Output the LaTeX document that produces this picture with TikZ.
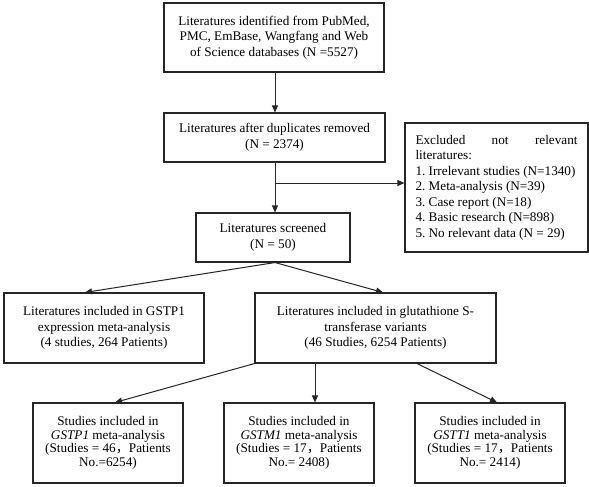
\documentclass[tikz,border=0pt]{standalone}
\usepackage{fontspec}
\setmainfont{Liberation Serif}
\newfontfamily\cjk{Noto Sans CJK SC}
\usetikzlibrary{arrows.meta}
\frenchspacing
\begin{document}
\begin{tikzpicture}[x=1pt,y=-1pt,
  box/.style={draw=black!85, line width=1.1pt, rectangle, inner sep=0pt, align=center,
    font=\fontsize{13.2}{15.5}\selectfont\frenchspacing},
  sbox/.style={box, font=\fontsize{13.2}{13.6}\selectfont\frenchspacing},
  conn/.style={draw=black!85, line width=1pt, -{Triangle[length=7pt,width=6pt]}},
  plain/.style={draw=black!85, line width=1pt}]
\useasboundingbox[fill=white] (0,0) rectangle (589,487);
\node[box, minimum width=220pt, minimum height=69pt] (b1) at (274,37.5)
  {Literatures identified from PubMed,\\PMC, EmBase, Wangfang and Web\\of Science databases (N =5527)};
\node[box, minimum width=221pt, minimum height=49pt] (b2) at (274.5,137.5)
  {Literatures after duplicates removed\\(N = 2374)};
\node[box, minimum width=183pt, minimum height=129pt, align=left] (ex) at (496.5,187.5)
  {\hbox to 162pt{Excluded\hfill not\hfill relevant}\\literatures:\\1. Irrelevant studies (N=1340)\\2. Meta-analysis (N=39)\\3. Case report (N=18)\\4. Basic research (N=898)\\5. No relevant data (N = 29)};
\node[box, minimum width=154pt, minimum height=49pt] (b3) at (273,237.5)
  {Literatures screened\\(N = 50)};
\node[box, minimum width=200pt, minimum height=70pt] (l2) at (104,328)
  {Literatures included in GSTP1\\expression meta-analysis\\(4 studies, 264 Patients)};
\node[box, minimum width=241pt, minimum height=70pt] (r2) at (375.5,328)
  {Literatures included in glutathione S-\\transferase variants\\(46 Studies, 6254 Patients)};
\node[sbox, minimum width=150pt, minimum height=80pt] (A) at (108,443)
  {Studies included in\\\textit{GSTP1} meta-analysis\\(Studies = 46{\cjk ，}Patients\\No.=6254)};
\node[sbox, minimum width=150pt, minimum height=80pt] (B) at (299,443)
  {Studies included in\\\textit{GSTM1} meta-analysis\\(Studies = 17{\cjk ，}Patients\\No.= 2408)};
\node[sbox, minimum width=150pt, minimum height=80pt] (C) at (490,443)
  {Studies included in\\\textit{GSTT1} meta-analysis\\(Studies = 17{\cjk ，}Patients\\No.= 2414)};
% connectors
\draw[conn] ([xshift=1pt]b1.south) -- ([xshift=0.5pt]b2.north);
\draw[conn] ([xshift=0.5pt]b2.south) -- ([xshift=2pt]b3.north);
\coordinate (j) at ([xshift=0.5pt]b2.south |- 0,183);
\draw[conn] (j) -- (j -| ex.west);
\draw[conn] ([xshift=2pt]b3.south) -- ([xshift=-19pt]l2.north);
\draw[conn] ([xshift=2pt]b3.south) -- ([xshift=7.5pt]r2.north);
\draw[conn] (r2.south west) -- ([xshift=7pt]A.north);
\draw[conn] ([xshift=-60.5pt]r2.south) -- ([xshift=16pt]B.north);
\draw[conn] ([xshift=41.5pt]r2.south) -- ([xshift=7pt]C.north);
\end{tikzpicture}
\end{document}
